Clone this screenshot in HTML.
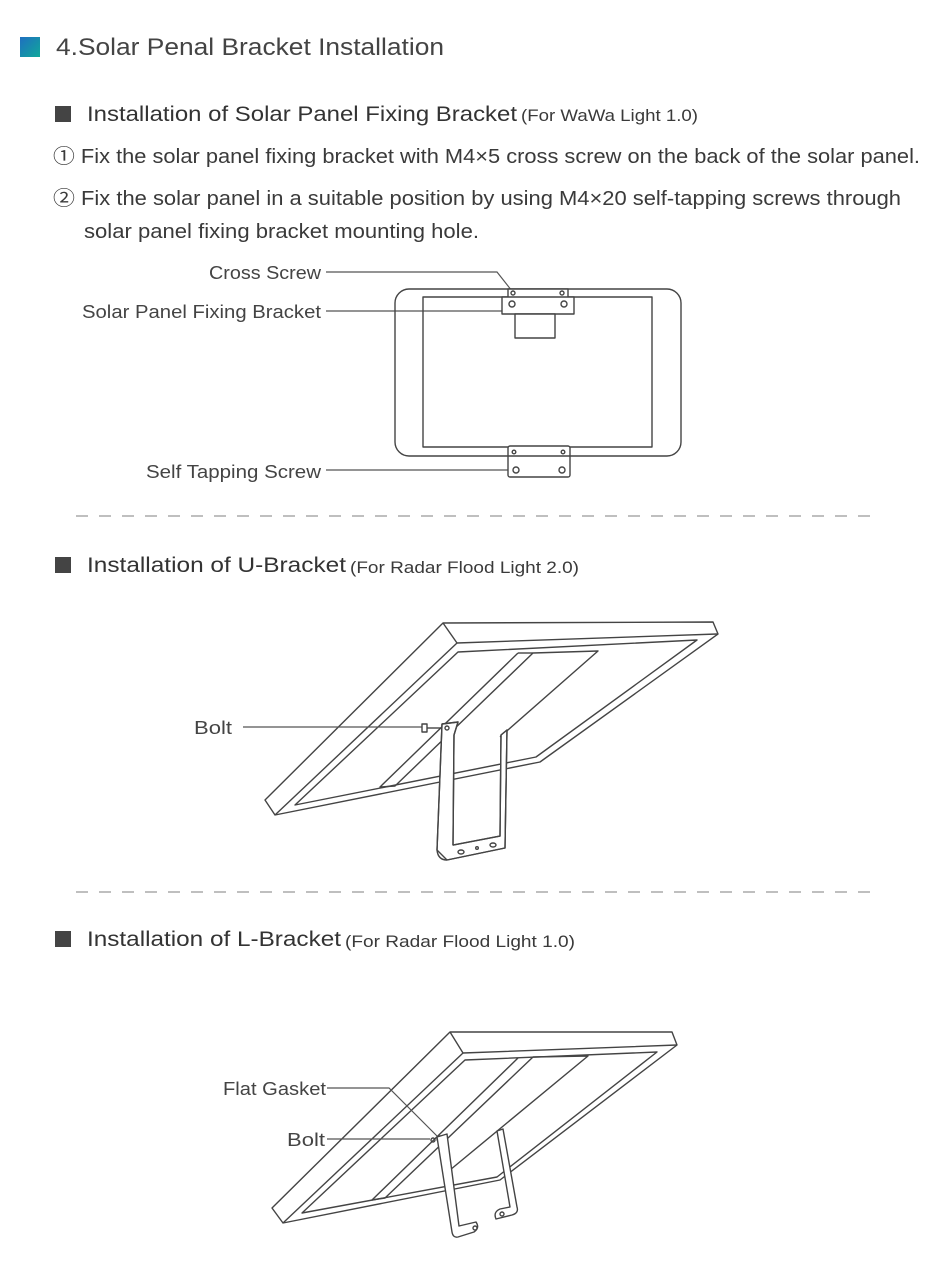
<!DOCTYPE html>
<html><head><meta charset="utf-8"><style>
html,body{margin:0;padding:0;background:#fff}
svg{display:block}
text{font-family:"Liberation Sans","Noto Sans CJK SC",sans-serif;fill:#3a3a3a}
.h{font-size:21px;fill:#333}
.s{font-size:17px}
.b{font-size:20px}
.l{font-size:18px;fill:#444}
.ln{stroke:#555;stroke-width:1.2;fill:none}
.dr{stroke:#444;stroke-width:1.4;fill:#fff;stroke-linejoin:round}
.dn{stroke:#444;stroke-width:1.4;fill:none;stroke-linejoin:round}
</style></head><body>
<svg width="950" height="1286" viewBox="0 0 950 1286" xmlns="http://www.w3.org/2000/svg">
<defs><linearGradient id="g" x1="0" y1="0" x2="1" y2="1"><stop offset="0" stop-color="#1f6fc0"/><stop offset="1" stop-color="#10a89a"/></linearGradient></defs>
<rect x="20" y="37" width="20" height="20" fill="url(#g)"/>
<text x="56" y="55" style="font-size:24px;fill:#444" textLength="388" lengthAdjust="spacingAndGlyphs">4.Solar Penal Bracket Installation</text>

<rect x="55" y="106" width="16" height="16" fill="#444"/>
<text x="87" y="121" class="h" textLength="430" lengthAdjust="spacingAndGlyphs">Installation of Solar Panel Fixing Bracket</text>
<text x="521" y="121" class="s" textLength="177" lengthAdjust="spacingAndGlyphs">(For WaWa Light 1.0)</text>
<text x="53" y="163" class="b" textLength="867" lengthAdjust="spacingAndGlyphs">① Fix the solar panel fixing bracket with M4×5 cross screw on the back of the solar panel.</text>
<text x="53" y="205" class="b" textLength="848" lengthAdjust="spacingAndGlyphs">② Fix the solar panel in a suitable position by using M4×20 self-tapping screws through</text>
<text x="84" y="238" class="b" textLength="395" lengthAdjust="spacingAndGlyphs">solar panel fixing bracket mounting hole.</text>

<text x="209" y="279" class="l" textLength="112" lengthAdjust="spacingAndGlyphs">Cross Screw</text>
<text x="82" y="318" class="l" textLength="239" lengthAdjust="spacingAndGlyphs">Solar Panel Fixing Bracket</text>
<text x="146" y="478" class="l" textLength="175" lengthAdjust="spacingAndGlyphs">Self Tapping Screw</text>
<polyline class="ln" points="326,272 497,272 512,291"/>
<line class="ln" x1="326" y1="311" x2="505" y2="311"/>
<line class="ln" x1="326" y1="470" x2="513" y2="470"/>
<rect class="dn" x="395" y="289" width="286" height="167" rx="14"/>
<rect class="dn" x="423" y="297" width="229" height="150"/>
<rect class="dr" x="508" y="289" width="60" height="10"/>
<rect class="dr" x="502" y="297" width="72" height="17"/>
<rect class="dr" x="515" y="314" width="40" height="24"/>
<circle class="dn" cx="513" cy="293" r="2"/><circle class="dn" cx="562" cy="293" r="2"/>
<circle class="dn" cx="512" cy="304" r="3"/><circle class="dn" cx="564" cy="304" r="3"/>
<rect class="dr" x="508" y="446" width="62" height="31" rx="2"/>
<line class="dn" x1="508" y1="456" x2="570" y2="456"/>
<circle class="dn" cx="514" cy="452" r="1.8"/><circle class="dn" cx="563" cy="452" r="1.8"/>
<circle class="dn" cx="516" cy="470" r="3"/><circle class="dn" cx="562" cy="470" r="3"/>

<line x1="76" y1="516" x2="870" y2="516" stroke="#999" stroke-width="1.2" stroke-dasharray="12,11"/>

<rect x="55" y="557" width="16" height="16" fill="#444"/>
<text x="87" y="572" class="h" textLength="259" lengthAdjust="spacingAndGlyphs">Installation of U-Bracket</text>
<text x="350" y="573" class="s" textLength="229" lengthAdjust="spacingAndGlyphs">(For Radar Flood Light 2.0)</text>

<polygon class="dr" points="443,623 713,622 718,634 540,762 275,815 265,800"/>
<polyline class="dn" points="443,623 457,643 717,634"/>
<line class="dn" x1="457" y1="643" x2="275" y2="815"/>
<polygon class="dn" points="458,652 697,640 536,757 295,805"/>
<polyline class="dn" points="518,653 380,787 395,786 533,653 598,651 500,737"/>
<line class="dn" x1="518" y1="653" x2="533" y2="653"/>
<text x="194" y="734" class="l" textLength="38" lengthAdjust="spacingAndGlyphs">Bolt</text>
<line class="ln" x1="243" y1="727" x2="423" y2="727"/>
<rect class="dr" x="422" y="724" width="5" height="8"/>
<line class="dn" x1="427" y1="728" x2="442" y2="728"/>
<polygon class="dr" points="442,724 458,722 454,735 453,845 500,836 501,735 507,730 505,848 447,860 437,850"/>
<polyline class="dn" points="442,724 458,722 454,735 453,845"/>
<path class="dn" d="M442,724 L437,850 Q438,860 447,860 L505,848 L507,730 L501,735 L500,836 L453,845"/>
<circle class="dn" cx="447" cy="728" r="2"/>
<ellipse class="dn" cx="461" cy="852" rx="3" ry="2"/><circle class="dn" cx="477" cy="848" r="1.3"/><ellipse class="dn" cx="493" cy="845" rx="3" ry="2"/>

<line x1="76" y1="892" x2="870" y2="892" stroke="#999" stroke-width="1.2" stroke-dasharray="12,11"/>

<rect x="55" y="931" width="16" height="16" fill="#444"/>
<text x="87" y="946" class="h" textLength="254" lengthAdjust="spacingAndGlyphs">Installation of L-Bracket</text>
<text x="345" y="947" class="s" textLength="230" lengthAdjust="spacingAndGlyphs">(For Radar Flood Light 1.0)</text>

<polygon class="dr" points="450,1032 672,1032 677,1045 500,1180 283,1223 272,1208"/>
<polyline class="dn" points="450,1032 463,1053 677,1045"/>
<line class="dn" x1="463" y1="1053" x2="283" y2="1223"/>
<polygon class="dn" points="465,1060 657,1052 497,1177 302,1213"/>
<polyline class="dn" points="518,1058 372,1200 385,1198 533,1057 588,1056 450,1170"/>
<text x="223" y="1095" class="l" textLength="103" lengthAdjust="spacingAndGlyphs">Flat Gasket</text>
<polyline class="ln" points="327,1088 389,1088 437,1136"/>
<text x="287" y="1146" class="l" textLength="38" lengthAdjust="spacingAndGlyphs">Bolt</text>
<line class="ln" x1="327" y1="1139" x2="430" y2="1139"/>
<circle class="dn" cx="433" cy="1140" r="2"/><circle class="dn" cx="440" cy="1139" r="3"/>
<path class="dr" d="M437,1137 L447,1134 L459,1226 L476,1222 Q480,1228 474,1232 L458,1237 Q453,1238 452,1232 Z"/>
<circle class="dn" cx="475" cy="1228" r="2"/>
<path class="dr" d="M497,1131 L503,1129 L517,1207 Q519,1213 512,1215 L496,1219 Q493,1212 500,1209 L510,1207 Z"/>
<circle class="dn" cx="502" cy="1214" r="2"/>
</svg>
</body></html>
